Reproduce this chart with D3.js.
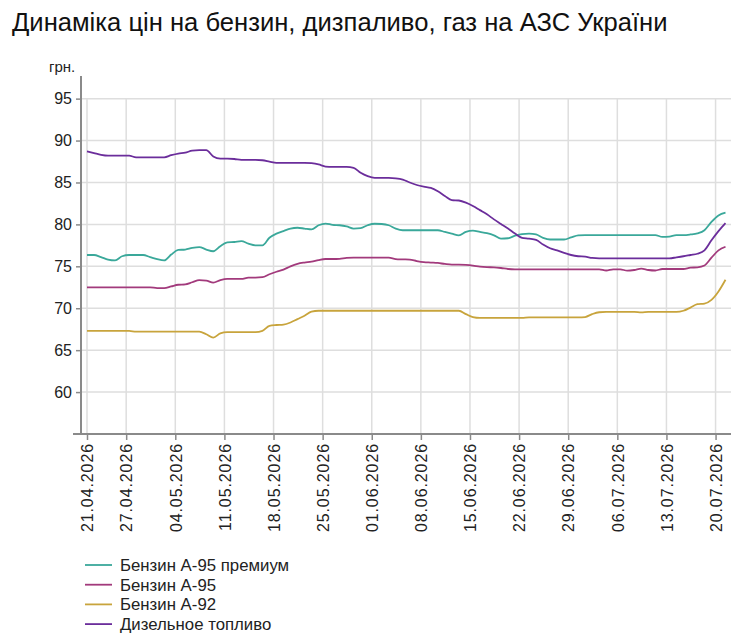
<!DOCTYPE html>
<html><head><meta charset="utf-8">
<script src="https://cdn.jsdelivr.net/npm/d3@7"></script>
<style>
html,body{margin:0;padding:0;background:#fff;}
svg{display:block;}
</style>
</head><body>
<svg id="chart" width="740" height="638"></svg>
<script>
const title = "Динаміка цін на бензин, дизпаливо, газ на АЗС України";
const unitLabel = "грн.";
const seriesNames = ["Бензин А-95 премиум", "Бензин А-95", "Бензин А-92", "Дизельное топливо"];
const seriesColors = ["#3aa89a", "#a23a7c", "#c8a43c", "#6b2d9b"];
const startDate = "21.04.2026";
const tickLabels = ["21.04.2026","27.04.2026","04.05.2026","11.05.2026","18.05.2026","25.05.2026","01.06.2026","08.06.2026","15.06.2026","22.06.2026","29.06.2026","06.07.2026","13.07.2026","20.07.2026"];
const yTicks = [60, 65, 70, 75, 80, 85, 90, 95];

const premium = [76.35,76.35,76.1,75.8,75.7,76.2,76.35,76.35,76.35,76.1,75.85,75.7,76.4,76.95,77.0,77.2,77.3,77.0,76.8,77.4,77.85,77.9,78.0,77.7,77.5,77.5,78.4,78.9,79.2,79.5,79.6,
79.5,79.4,79.9,80.1,79.95,79.9,79.75,79.5,79.55,79.9,80.08,80.05,79.9,79.5,79.3,79.3,79.3,79.3,79.3,79.3,79.1,78.9,78.7,79.1,79.25,79.1,78.95,78.7,78.3,78.35,78.65,78.85,
78.9,78.8,78.4,78.2,78.2,78.2,78.45,78.7,78.73,78.73,78.73,78.73,78.73,78.73,78.73,78.73,78.73,78.73,78.73,78.5,78.55,78.73,78.73,78.8,78.93,79.3,80.3,81.07,81.4];
const a95 = [72.5,72.5,72.5,72.5,72.5,72.5,72.5,72.5,72.5,72.5,72.4,72.4,72.6,72.8,72.85,73.1,73.35,73.3,73.05,73.35,73.5,73.5,73.5,73.65,73.65,73.7,74.05,74.35,74.6,75.0,75.3,
75.45,75.55,75.75,75.87,75.87,75.9,76.0,76.03,76.03,76.03,76.03,76.03,76.03,75.87,75.83,75.8,75.63,75.5,75.45,75.4,75.28,75.2,75.2,75.16,75.08,74.96,74.9,74.88,74.8,74.68,74.64,74.64,
74.64,74.64,74.64,74.64,74.64,74.64,74.64,74.64,74.64,74.64,74.64,74.5,74.64,74.64,74.48,74.56,74.72,74.56,74.5,74.68,74.68,74.68,74.68,74.84,74.88,75.1,76.03,76.9,77.33];
const a92 = [67.3,67.3,67.3,67.3,67.3,67.3,67.3,67.2,67.2,67.2,67.2,67.2,67.2,67.2,67.2,67.2,67.2,66.9,66.5,67.0,67.15,67.15,67.15,67.15,67.15,67.3,67.9,68.0,68.05,68.3,68.7,
69.1,69.6,69.7,69.7,69.7,69.7,69.7,69.7,69.7,69.7,69.7,69.7,69.7,69.7,69.7,69.7,69.7,69.7,69.7,69.7,69.7,69.7,69.7,69.3,68.95,68.85,68.85,68.85,68.85,68.85,68.85,68.85,
68.9,68.9,68.9,68.9,68.9,68.9,68.9,68.9,68.95,69.3,69.52,69.56,69.56,69.56,69.56,69.56,69.5,69.56,69.56,69.56,69.56,69.56,69.7,70.08,70.48,70.55,71.0,72.0,73.4];
const diesel = [88.7,88.5,88.3,88.2,88.2,88.2,88.2,88.0,88.0,88.0,88.0,88.0,88.25,88.45,88.55,88.8,88.85,88.85,88.1,87.85,87.85,87.8,87.7,87.7,87.7,87.65,87.5,87.35,87.35,87.35,87.35,
87.35,87.3,87.15,86.9,86.86,86.86,86.86,86.75,86.15,85.75,85.55,85.55,85.55,85.5,85.35,85.0,84.7,84.5,84.35,83.95,83.4,82.9,82.85,82.6,82.2,81.7,81.2,80.6,80.05,79.5,78.9,78.4,
78.3,78.15,77.6,77.15,76.9,76.6,76.35,76.2,76.15,76.0,75.95,75.95,75.95,75.95,75.95,75.95,75.95,75.95,75.95,75.95,75.95,76.07,76.2,76.35,76.5,76.9,78.1,79.2,80.15];

const seriesValues = [premium, a95, a92, diesel];

const parse = d3.timeParse("%d.%m.%Y");
const start = d3.timeHour.offset(parse(startDate), 10);
const dates = premium.map((_, i) => d3.timeDay.offset(start, i));

const svg = d3.select("#chart");
const font = "'Liberation Sans', Arial, sans-serif";

const x = d3.scaleTime().domain([dates[0], dates[dates.length - 1]]).range([87, 725.5]);
const y = d3.scaleLinear().domain([55, 97.7]).range([434, 76]);

const tickDates = tickLabels.map((t, i) => i === 0 ? dates[0] : parse(t));

// title
svg.append("text").attr("x", 12).attr("y", 31)
  .attr("font-family", "'Liberation Sans Narrow', 'Arial Narrow', sans-serif")
  .attr("font-size", 25.6).attr("fill", "#111").text(title);

svg.append("text").attr("x", 49).attr("y", 72)
  .attr("font-family", "'Liberation Sans Narrow', 'Arial Narrow', sans-serif")
  .attr("font-size", 15).attr("fill", "#222").text(unitLabel);

const axisColor = "#8a8a8a";
const gridColor = "#dedede";
const xLeft = 81, xRight = 731;

// horizontal grid
svg.append("g").selectAll("line").data(yTicks).join("line")
  .attr("x1", xLeft).attr("x2", xRight)
  .attr("y1", d => y(d)).attr("y2", d => y(d))
  .attr("stroke", gridColor).attr("stroke-width", 1.5);
// vertical grid
svg.append("g").selectAll("line").data(tickDates).join("line")
  .attr("x1", d => x(d)).attr("x2", d => x(d))
  .attr("y1", y(95)).attr("y2", y(55))
  .attr("stroke", gridColor).attr("stroke-width", 1.5);

// y axis
const yAxis = svg.append("g").attr("transform", `translate(${xLeft},0)`)
  .call(d3.axisLeft(y).tickValues(yTicks).tickSize(5).tickPadding(4));
yAxis.select(".domain").remove();
yAxis.selectAll(".tick line").attr("stroke", axisColor).attr("stroke-width", 1.5);
yAxis.selectAll(".tick text").attr("font-family", font).attr("font-size", 16).attr("fill", "#222");
svg.append("line").attr("x1", xLeft).attr("x2", xLeft).attr("y1", 76).attr("y2", y(55))
  .attr("stroke", axisColor).attr("stroke-width", 2);

// x axis
const xAxis = svg.append("g").attr("transform", `translate(0,${y(55)})`)
  .call(d3.axisBottom(x).tickValues(tickDates).tickFormat((d, i) => tickLabels[i]).tickSize(6).tickPadding(8));
xAxis.select(".domain").remove();
xAxis.selectAll(".tick line").attr("stroke", axisColor).attr("stroke-width", 1.5);
xAxis.selectAll(".tick text")
  .attr("font-family", font).attr("font-size", 16).attr("fill", "#222")
  .style("letter-spacing", "0.9px")
  .attr("text-anchor", "end")
  .attr("transform", "rotate(-90)")
  .attr("x", -9).attr("y", 0).attr("dy", "0.36em");
svg.append("line").attr("x1", 73).attr("x2", xRight).attr("y1", y(55)).attr("y2", y(55))
  .attr("stroke", axisColor).attr("stroke-width", 2);

// lines
const line = d3.line().x((d, i) => x(dates[i])).y(d => y(d)).curve(d3.curveMonotoneX);
svg.append("g").selectAll("path").data(seriesValues).join("path")
  .attr("d", d => line(d))
  .attr("fill", "none")
  .attr("stroke", (d, i) => seriesColors[i])
  .attr("stroke-width", 1.8)
  .attr("stroke-linejoin", "round");

// legend
const legend = svg.append("g").selectAll("g").data(seriesNames).join("g")
  .attr("transform", (d, i) => `translate(85,${565 + i * 19.7})`);
legend.append("line").attr("x1", 0).attr("x2", 27).attr("y1", 0).attr("y2", 0)
  .attr("stroke", (d, i) => seriesColors[i]).attr("stroke-width", 1.8);
legend.append("text").attr("x", 35).attr("y", 0).attr("dy", "0.35em")
  .attr("font-family", font).attr("font-size", 16.8).attr("fill", "#222").text(d => d);
</script>
</body></html>
